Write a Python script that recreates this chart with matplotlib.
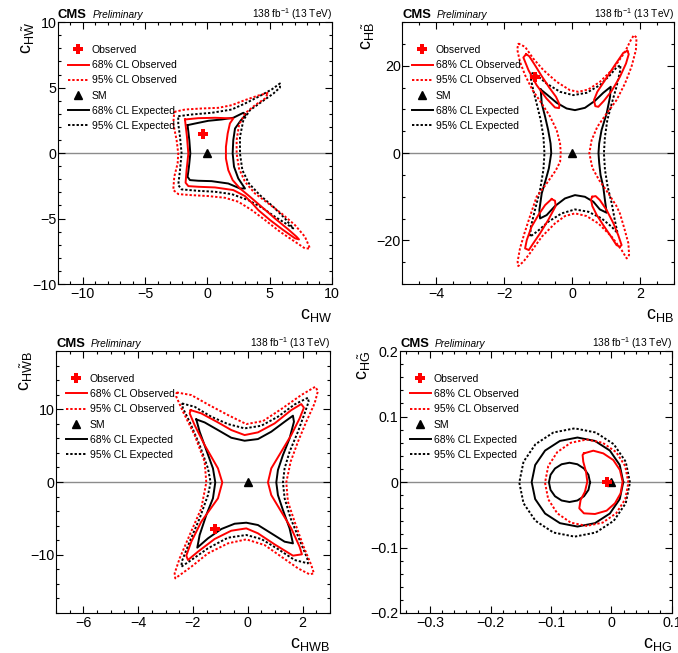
import matplotlib
matplotlib.use('Agg')
import matplotlib.pyplot as plt
from matplotlib.ticker import MultipleLocator, FuncFormatter
from matplotlib.lines import Line2D

plt.rcParams['font.family'] = ['Liberation Sans', 'DejaVu Sans']
plt.rcParams['mathtext.fontset'] = 'custom'
plt.rcParams['mathtext.rm'] = 'Liberation Sans'
plt.rcParams['mathtext.it'] = 'Liberation Sans:italic'
plt.rcParams['mathtext.bf'] = 'Liberation Sans:bold'

# ---------------- Panel 1: cHW vs cHWtilde ----------------
hw_obs_point = (-0.33, 1.45)
hw_obs68_x = [-1.80, -0.73, 0.61, 2.08, 1.81, 1.63, 1.49, 1.49, 1.68, 2.03, 2.62, 3.42, 4.36, 5.43, 6.50, 7.17,
              7.36, 7.04, 6.10, 5.03, 4.09, 3.61, 3.02, 2.08, 0.61, -0.73, -1.53, -1.75, -1.67, -1.53, -1.64, -1.80]
hw_obs68_y = [2.57, 2.67, 2.70, 2.65, 2.27, 1.50, 0.48, -0.41, -1.30, -2.06, -2.70, -3.33, -4.10, -4.99, -5.83, -6.39,
              -6.59, -6.51, -5.88, -5.11, -4.35, -3.84, -3.28, -2.82, -2.62, -2.57, -2.52, -2.26, -1.30, -0.03, 1.25, 2.57]
hw_exp68_x = [-1.59, -0.996, 0.075, 1.146, 2.08, 2.886, 3.10, 2.70, 2.22, 2.08, 2.03, 2.14, 2.48, 3.02, 2.62, 1.68,
              0.34, -0.73, -1.40, -1.59, -1.48, -1.37, -1.45, -1.59]
hw_exp68_y = [2.14, 2.26, 2.47, 2.57, 2.70, 3.08, 2.95, 2.52, 1.88, 0.99, -0.025, -1.04, -1.93, -2.70, -2.70, -2.32,
              -2.14, -2.11, -2.06, -1.81, -1.04, -0.026, 0.99, 2.14]
hw_obs95_x = [-2.66, -1.80, -0.46, 0.88, 1.95, 3.02, 4.09, 4.89, 4.63, 3.82, 3.02, 2.54, 2.35, 2.35, 2.54, 3.02,
              3.82, 4.89, 5.96, 7.04, 7.84, 8.24, 7.84, 7.04, 5.83, 4.63, 3.56, 2.48, 1.41, 0.07, -1.26, -2.33,
              -2.74, -2.66, -2.39, -2.34, -2.47, -2.74, -2.66]
hw_obs95_y = [3.15, 3.33, 3.41, 3.46, 3.66, 4.05, 4.40, 4.61, 4.17, 3.66, 3.03, 2.14, 1.00, -0.03, -1.17, -2.19,
              -3.08, -3.84, -4.61, -5.50, -6.39, -7.28, -7.28, -6.77, -6.00, -5.11, -4.35, -3.71, -3.41, -3.28, -3.21, -3.13,
              -2.82, -1.81, -0.79, -0.03, 0.99, 2.27, 3.15]
hw_exp95_x = [-2.34, -1.26, 0.34, 1.95, 3.02, 4.09, 5.16, 5.83, 5.83, 5.30, 4.36, 3.42, 2.89, 2.62, 2.62, 2.81,
              3.34, 4.22, 5.30, 6.23, 6.90, 6.37, 5.43, 4.36, 3.29, 1.95, 0.61, -0.73, -2.07, -2.34, -2.20, -2.07,
              -2.20, -2.34, -2.34]
hw_exp95_y = [2.82, 2.95, 3.08, 3.33, 3.79, 4.30, 4.86, 5.32, 5.01, 4.55, 3.92, 3.28, 2.52, 1.25, -0.03, -1.30,
              -2.32, -3.21, -4.10, -4.99, -5.75, -5.42, -4.86, -4.15, -3.59, -3.13, -2.95, -2.88, -2.77, -2.44, -1.30, -0.03,
              1.25, 2.26, 2.82]

# ---------------- Panel 2: cHB vs cHBtilde ----------------
hb_obs_point = (-1.08, 17.5)
hb_obs68_ul_x = [-1.35, -1.43, -1.28, -1.04, -0.75, -0.50, -0.38, -0.37, -0.47, -0.67, -0.89, -1.12, -1.26, -1.35]
hb_obs68_ul_y = [22.67, 21.91, 19.01, 15.58, 12.52, 10.46, 10.31, 11.22, 12.9, 15.04, 17.64, 20.54, 22.22, 22.67]
hb_obs68_ur_x = [1.63, 1.51, 1.26, 0.97, 0.745, 0.647, 0.686, 0.774, 0.94, 1.17, 1.41, 1.59, 1.67, 1.63]
hb_obs68_ur_y = [23.44, 22.98, 20.15, 16.72, 14.05, 12.14, 10.77, 10.61, 11.99, 14.28, 17.48, 20.54, 22.67, 23.44]
hb_obs68_ll_x = [-0.60, -0.50, -0.48, -0.70, -0.94, -1.14, -1.27, -1.38, -1.33, -1.19, -0.99, -0.79, -0.60]
hb_obs68_ll_y = [-10.53, -10.91, -12.13, -15.34, -18.39, -20.68, -22.21, -21.83, -19.92, -16.87, -14.2, -11.9, -10.53]
hb_obs68_lr_x = [0.598, 0.696, 0.82, 1.02, 1.22, 1.36, 1.46, 1.41, 1.31, 1.12, 0.92, 0.73, 0.598, 0.56, 0.598]
hb_obs68_lr_y = [-9.99, -9.84, -10.76, -13.05, -16.1, -18.78, -21.07, -21.45, -21.07, -18.78, -16.49, -14.2, -12.13,
                 -10.61, -9.99]
hb_exp68_x = [-0.92, -0.75, -0.45, -0.157, 0.088, 0.382, 0.676, 0.92, 1.14, 1.12, 1.02, 0.87, 0.80, 0.78, 0.80,
              0.84, 0.92, 0.97, 1.02, 0.82, 0.63, 0.38, 0.088, -0.206, -0.50, -0.745, -0.94, -0.96, -0.89, -0.775,
              -0.68, -0.61, -0.63, -0.70, -0.79, -0.89, -0.92]
hb_exp68_y = [14.58, 13.51, 11.53, 10.23, 9.85, 10.38, 11.99, 13.82, 15.2, 12.9, 9.09, 5.27, 2.22, 0.0, -2.2,
              -5.0, -7.71, -10.76, -13.66, -12.9, -11.14, -10.0, -9.62, -10.38, -12.13, -14.2, -14.96, -13.05, -9.23, -6.18,
              -3.5, 0.0, 2.22, 5.27, 8.32, 11.38, 14.58]
hb_obs95_x = [-1.58, -1.38, -1.14, -0.84, -0.45, -0.06, 0.19, 0.48, 0.823, 1.22, 1.56, 1.73, 1.82, 1.90, 1.88,
              1.75, 1.56, 1.31, 1.02, 0.745, 0.578, 0.51, 0.60, 0.80, 1.05, 1.30, 1.41, 1.54, 1.66, 1.68, 1.61,
              1.46, 1.17, 0.774, 0.43, 0.088, -0.206, -0.50, -0.89, -1.24, -1.43, -1.58, -1.60, -1.53, -1.40, -1.24,
              -1.04, -0.75, -0.48, -0.35, -0.33, -0.35, -0.45, -0.65, -0.89, -1.16, -1.38, -1.53, -1.61, -1.58]
hb_obs95_y = [25.12, 24.35, 21.68, 19.01, 16.34, 14.43, 14.05, 14.58, 16.34, 19.39, 23.21, 25.88, 27.02, 26.49, 23.59,
              19.77, 15.96, 12.14, 9.09, 6.03, 2.98, 0.0, -3.4, -6.2, -9.0, -12.0, -13.81, -17.25, -20.68, -23.36, -24.12,
              -22.21, -19.16, -16.1, -14.42, -13.8, -14.42, -16.1, -19.16, -22.97, -24.88, -25.87, -24.88, -21.83, -18.39, -14.58,
              -9.99, -7.0, -4.0, -2.0, 0.0, 2.22, 5.27, 8.47, 11.38, 14.43, 17.87, 20.92, 23.74, 25.12]
hb_exp95_x = [-1.19, -1.04, -0.75, -0.35, 0.039, 0.43, 0.823, 1.12, 1.31, 1.43, 1.41, 1.31, 1.17, 1.04, 0.97,
              0.94, 0.97, 1.05, 1.17, 1.26, 1.34, 1.166, 0.872, 0.48, 0.088, -0.304, -0.697, -1.0, -1.235, -1.21,
              -1.09, -0.94, -0.84, -0.81, -0.84, -0.92, -1.04, -1.14, -1.22, -1.19]
hb_exp95_y = [18.4, 17.86, 15.96, 14.05, 13.29, 13.82, 15.58, 17.87, 19.62, 20.15, 18.63, 15.2, 11.38, 7.56, 3.75,
              0.0, -3.75, -7.71, -11.52, -15.34, -18.3, -16.87, -14.96, -13.43, -12.9, -13.81, -15.72, -17.8, -19.16, -16.87,
              -13.05, -8.47, -3.75, 0.0, 3.75, 7.56, 11.38, 14.43, 17.48, 18.4]

# ---------------- Panel 3: cHWB vs cHWBtilde ----------------
hwb_obs_point = (-1.18, -6.46)
hwb_obs68_x = [-2.085, -1.696, -1.087, -0.601, -0.114, 0.373, 0.981, 1.589, 1.954, 2.051, 1.893, 1.589, 1.224,
               0.859, 0.738, 0.859, 1.224, 1.589, 1.893, 1.978, 1.650, 0.981, 0.373, -0.053, -0.601, -1.209, -1.817,
               -2.182, -2.243, -2.060, -1.696, -1.087, -0.929, -1.087, -1.574, -1.939, -2.121, -2.085]
hwb_obs68_y = [9.89, 9.44, 8.20, 7.15, 6.46, 6.83, 8.06, 9.89, 10.72, 10.22, 8.75, 6.46, 4.17,
               1.88, -0.05, -1.79, -4.08, -6.37, -8.89, -9.94, -10.12, -8.57, -7.05, -6.37, -6.69, -7.83, -9.57,
               -10.72, -10.12, -8.2, -5.45, -2.24, -0.05, 1.88, 5.09, 7.83, 9.44, 9.89]
hwb_exp68_x = [-1.878, -1.574, -1.087, -0.601, -0.114, 0.373, 0.859, 1.346, 1.650, 1.687, 1.528, 1.285, 1.102,
               1.042, 1.102, 1.285, 1.528, 1.650, 1.346, 0.859, 0.373, -0.053, -0.479, -0.966, -1.452, -1.842,
               -1.756, -1.513, -1.270, -1.185, -1.270, -1.513, -1.756, -1.878]
hwb_exp68_y = [8.61, 8.20, 7.15, 6.09, 5.68, 5.91, 6.92, 8.29, 9.12, 8.29, 6.0, 3.71, 1.65,
               -0.05, -1.79, -3.85, -6.37, -8.43, -8.2, -7.05, -5.91, -5.59, -5.73, -6.46, -7.74, -9.02,
               -7.28, -4.53, -2.24, -0.05, 1.88, 4.40, 6.92, 8.61]
hwb_obs95_x = [-2.596, -2.060, -1.452, -0.722, -0.053, 0.555, 1.224, 1.954, 2.465, 2.562, 2.441, 2.136, 1.833,
               1.565, 1.407, 1.467, 1.711, 2.015, 2.319, 2.416, 2.258, 1.833, 1.224, 0.616, -0.053, -0.722, -1.452,
               -2.060, -2.645, -2.669, -2.486, -2.121, -1.696, -1.513, -1.574, -1.939, -2.364, -2.608, -2.596]
hwb_obs95_y = [12.32, 11.96, 10.67, 9.21, 7.97, 8.38, 10.03, 11.96, 13.1, 12.51, 10.81, 8.29, 5.54,
               2.79, -0.05, -2.7, -5.45, -8.66, -11.41, -12.55, -12.69, -11.86, -10.26, -8.66, -7.88, -8.43, -9.8,
               -11.64, -13.24, -12.55, -10.49, -7.28, -3.62, -0.05, 2.79, 6.46, 9.67, 11.73, 12.32]
hwb_exp95_x = [-2.401, -1.939, -1.330, -0.722, -0.114, 0.494, 1.102, 1.711, 2.198, 2.222, 2.076, 1.833, 1.528,
               1.346, 1.285, 1.346, 1.565, 1.893, 2.173, 2.198, 1.711, 1.102, 0.494, -0.053, -0.722, -1.452, -2.060,
               -2.425, -2.401, -2.121, -1.756, -1.452, -1.355, -1.452, -1.756, -2.121, -2.364, -2.401]
hwb_exp95_y = [10.81, 10.35, 8.98, 7.97, 7.38, 7.74, 8.98, 10.67, 11.59, 11.04, 9.44, 6.92, 4.17,
               1.88, -0.05, -2.24, -4.99, -7.97, -10.49, -11.18, -10.72, -9.21, -7.83, -7.28, -7.65, -9.11, -10.72,
               -11.64, -10.86, -8.2, -4.99, -1.79, -0.05, 1.88, 5.09, 8.29, 10.12, 10.81]

# ---------------- Panel 4: cHG vs cHGtilde ----------------
hg_obs_point = (-0.007, 0.0)
hg_obs68_x = [-0.0456, -0.0301, -0.0136, 0.0030, 0.0140, 0.0184, 0.0151, 0.0057, -0.0080, -0.0273, -0.0456,
              -0.0533, -0.0511, -0.0439, -0.0400, -0.0422, -0.0467, -0.0478, -0.0456]
hg_obs68_y = [0.0438, 0.0479, 0.0438, 0.0336, 0.0184, 0.0006, -0.0173, -0.0325, -0.0437, -0.0488, -0.0478,
              -0.0402, -0.0274, -0.0147, 0.0006, 0.0158, 0.0311, 0.0413, 0.0438]
hg_exp68_outer_x = [0.0195, 0.0137, -0.0027, -0.0273, -0.0563, -0.0853, -0.1099, -0.1263, -0.1321, -0.1263,
                    -0.1099, -0.0853, -0.0563, -0.0273, -0.0027, 0.0137, 0.0195]
hg_exp68_outer_y = [0.0, 0.026, 0.0481, 0.0628, 0.068, 0.0628, 0.0481, 0.026, 0.0, -0.026,
                    -0.0481, -0.0628, -0.068, -0.0628, -0.0481, -0.026, 0.0]
hg_exp68_inner_x = [-0.0355, -0.0381, -0.0455, -0.0565, -0.0695, -0.0825, -0.0935, -0.1009, -0.1035, -0.1009,
                    -0.0935, -0.0825, -0.0695, -0.0565, -0.0455, -0.0381, -0.0355]
hg_exp68_inner_y = [-0.0005, 0.0110, 0.0207, 0.0272, 0.0295, 0.0272, 0.0207, 0.0110, -0.0005, -0.0120,
                    -0.0217, -0.0282, -0.0305, -0.0282, -0.0217, -0.0120, -0.0005]
hg_obs95_x = [0.028, 0.0227, 0.0078, -0.0146, -0.041, -0.0674, -0.0898, -0.1047, -0.110, -0.1047,
              -0.0898, -0.0674, -0.041, -0.0146, 0.0078, 0.0227, 0.028]
hg_obs95_y = [-0.001, 0.0243, 0.0457, 0.0600, 0.065, 0.0600, 0.0457, 0.0243, -0.001, -0.0263,
              -0.0477, -0.062, -0.067, -0.062, -0.0477, -0.0263, -0.001]
hg_exp95_x = [0.0306, 0.0236, 0.0038, -0.0259, -0.061, -0.0961, -0.1258, -0.1456, -0.1526, -0.1456,
              -0.1258, -0.0961, -0.061, -0.0259, 0.0038, 0.0236, 0.0306]
hg_exp95_y = [-0.0007, 0.031, 0.0578, 0.0757, 0.082, 0.0757, 0.0578, 0.031, -0.0007, -0.0324,
              -0.0592, -0.0771, -0.0834, -0.0771, -0.0592, -0.0324, -0.0007]

sm_point = (0.0, 0.0)
legend_labels = ['Observed', '68% CL Observed', '95% CL Observed', 'SM', '68% CL Expected', '95% CL Expected']

RED = '#ff0000'
LW = 1.4
DOT = (0, (1.2, 1.0))

fig = plt.figure(figsize=(6.78, 6.53), dpi=100)


def fmt(v, pos=None):
    if abs(v) < 1e-9:
        return '0'
    return ('%g' % round(v, 6)).replace('-', '\u2212')


def setup(ax, xlim, ylim, xmaj, xmin, ymaj, ymin, xlabel, ylabel, ylab_x):
    ax.set_xlim(*xlim)
    ax.set_ylim(*ylim)
    ax.xaxis.set_major_locator(MultipleLocator(xmaj))
    ax.xaxis.set_minor_locator(MultipleLocator(xmin))
    ax.yaxis.set_major_locator(MultipleLocator(ymaj))
    ax.yaxis.set_minor_locator(MultipleLocator(ymin))
    ax.xaxis.set_major_formatter(FuncFormatter(fmt))
    ax.yaxis.set_major_formatter(FuncFormatter(fmt))
    ax.tick_params(which='both', direction='in', top=True, right=True, labelsize=10.3, width=0.8)
    ax.tick_params(which='major', length=4.8)
    ax.tick_params(which='minor', length=2.4)
    ax.tick_params(axis='x', pad=2)
    ax.tick_params(axis='y', pad=1)
    for s in ax.spines.values():
        s.set_linewidth(0.8)
    ax.set_xlabel(xlabel, fontsize=13, loc='right')
    ax.xaxis.set_label_coords(1.0, -0.088)
    ax.set_ylabel(ylabel, fontsize=13, loc='top')
    ax.yaxis.set_label_coords(ylab_x, 1.0)
    ax.axhline(0, color='0.55', lw=1.0, zorder=1)
    ax.text(0.0, 1.017, 'CMS', transform=ax.transAxes, fontsize=9.4, fontweight='bold', va='baseline', ha='left')
    ax.text(0.128, 1.017, 'Preliminary', transform=ax.transAxes, fontsize=7.3, style='italic', va='baseline', ha='left')
    ax.text(1.0, 1.017, r'138 fb$^{-1}$ (13 TeV)', transform=ax.transAxes, fontsize=7.3, va='baseline', ha='right')


def draw(ax, obs68, obs95, exp68, exp95, obs_pt):
    for xs, ys in exp95:
        ax.plot(xs, ys, color='k', lw=LW, ls=DOT, zorder=3)
    for xs, ys in exp68:
        ax.plot(xs, ys, color='k', lw=LW, zorder=3)
    for xs, ys in obs95:
        ax.plot(xs, ys, color=RED, lw=LW, ls=DOT, zorder=4)
    for xs, ys in obs68:
        ax.plot(xs, ys, color=RED, lw=LW, zorder=4)
    ax.plot([sm_point[0]], [sm_point[1]], marker='^', color='k', ms=6, ls='none', zorder=5)
    ax.plot([obs_pt[0]], [obs_pt[1]], marker='P', color=RED, ms=6.5, mew=0, ls='none', zorder=6)
    handles = [
        Line2D([], [], color=RED, marker='P', ms=6.5, mew=0, ls='none'),
        Line2D([], [], color=RED, lw=LW),
        Line2D([], [], color=RED, lw=LW, ls=DOT),
        Line2D([], [], color='k', marker='^', ms=6, ls='none'),
        Line2D([], [], color='k', lw=LW),
        Line2D([], [], color='k', lw=LW, ls=DOT),
    ]
    ax.legend(handles, legend_labels, loc='upper left', bbox_to_anchor=(0.036, 0.913), frameon=False,
              fontsize=7.5, handlelength=2.0, handletextpad=0.3, labelspacing=0.5,
              borderaxespad=0.0, borderpad=0.0)


ax1 = fig.add_axes([0.0855, 0.565, 0.404, 0.401])
setup(ax1, (-12, 10), (-10, 10), 5, 1, 5, 1, r'$\mathrm{c}_{\mathrm{HW}}$', r'$\mathrm{c}_{\mathrm{H\tilde{W}}}$', -0.077)
draw(ax1, [(hw_obs68_x, hw_obs68_y)], [(hw_obs95_x, hw_obs95_y)], [(hw_exp68_x, hw_exp68_y)],
     [(hw_exp95_x, hw_exp95_y)], hw_obs_point)

ax2 = fig.add_axes([0.593, 0.565, 0.401, 0.401])
setup(ax2, (-5, 3), (-30, 30), 2, 0.5, 20, 5, r'$\mathrm{c}_{\mathrm{HB}}$', r'$\mathrm{c}_{\mathrm{H\tilde{B}}}$', -0.092)
draw(ax2, [(hb_obs68_ul_x, hb_obs68_ul_y), (hb_obs68_ur_x, hb_obs68_ur_y), (hb_obs68_ll_x, hb_obs68_ll_y),
           (hb_obs68_lr_x, hb_obs68_lr_y)],
     [(hb_obs95_x, hb_obs95_y)], [(hb_exp68_x, hb_exp68_y)], [(hb_exp95_x, hb_exp95_y)], hb_obs_point)

ax3 = fig.add_axes([0.0826, 0.0613, 0.404, 0.401])
setup(ax3, (-7, 3), (-18, 18), 2, 0.5, 10, 2, r'$\mathrm{c}_{\mathrm{HWB}}$', r'$\mathrm{c}_{\mathrm{H\tilde{W}B}}$', -0.077)
draw(ax3, [(hwb_obs68_x, hwb_obs68_y)], [(hwb_obs95_x, hwb_obs95_y)], [(hwb_exp68_x, hwb_exp68_y)],
     [(hwb_exp95_x, hwb_exp95_y)], hwb_obs_point)

ax4 = fig.add_axes([0.590, 0.0613, 0.401, 0.401])
setup(ax4, (-0.35, 0.1), (-0.2, 0.2), 0.1, 0.02, 0.1, 0.02, r'$\mathrm{c}_{\mathrm{HG}}$', r'$\mathrm{c}_{\mathrm{H\tilde{G}}}$', -0.1)
draw(ax4, [(hg_obs68_x, hg_obs68_y)], [(hg_obs95_x, hg_obs95_y)],
     [(hg_exp68_outer_x, hg_exp68_outer_y), (hg_exp68_inner_x, hg_exp68_inner_y)],
     [(hg_exp95_x, hg_exp95_y)], hg_obs_point)

fig.savefig('out.png', dpi=100)
